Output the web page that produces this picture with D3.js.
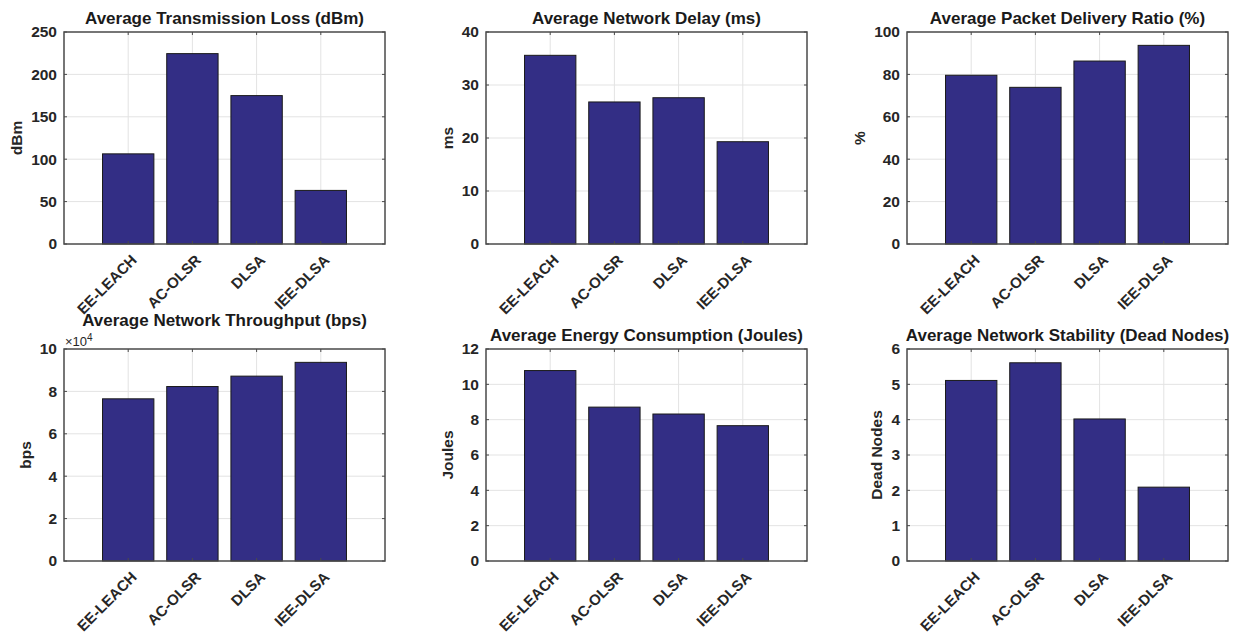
<!DOCTYPE html>
<html>
<head>
<meta charset="utf-8">
<script src="https://cdn.jsdelivr.net/npm/d3@7"></script>
<style>
  body { margin: 0; background: #fff; }
  svg { display: block; font-family: "Liberation Sans", Arial, sans-serif; }
  .tick text { font-weight: bold; fill: #262626; }
</style>
</head>
<body>
<div id="chart"></div>
<script>
// data
const categories = ["EE-LEACH", "AC-OLSR", "DLSA", "IEE-DLSA"];
const lossValues = [106.3, 224.5, 175, 63.2];
const delayValues = [35.6, 26.8, 27.6, 19.3];
const pdrValues = [79.6, 73.9, 86.3, 93.7];
const throughputValues = [76500, 82300, 87200, 93700];
const energyValues = [10.78, 8.71, 8.32, 7.66];
const deadNodeValues = [5.11, 5.61, 4.02, 2.09];

const lossTicks = [0, 50, 100, 150, 200, 250];
const delayTicks = [0, 10, 20, 30, 40];
const pdrTicks = [0, 20, 40, 60, 80, 100];
const throughputTicks = [0, 20000, 40000, 60000, 80000, 100000];
const energyTicks = [0, 2, 4, 6, 8, 10, 12];
const deadNodeTicks = [0, 1, 2, 3, 4, 5, 6];

const W = 1241, H = 637;
const colLeft = [64, 486, 907], plotW = 321;
const rowTop = [32, 349], plotH = 212;

const barColor = "#332e85";
const boxColor = "#4a4a4a";
const gridColor = "#e3e3e3";

const panels = [
  {title: "Average Transmission Loss (dBm)", ylabel: "dBm", values: lossValues, ticks: lossTicks, col: 0, row: 0},
  {title: "Average Network Delay (ms)", ylabel: "ms", values: delayValues, ticks: delayTicks, col: 1, row: 0},
  {title: "Average Packet Delivery Ratio (%)", ylabel: "%", values: pdrValues, ticks: pdrTicks, col: 2, row: 0},
  {title: "Average Network Throughput (bps)", ylabel: "bps", values: throughputValues, ticks: throughputTicks, col: 0, row: 1, exponent: 4},
  {title: "Average Energy Consumption (Joules)", ylabel: "Joules", values: energyValues, ticks: energyTicks, col: 1, row: 1},
  {title: "Average Network Stability (Dead Nodes)", ylabel: "Dead Nodes", values: deadNodeValues, ticks: deadNodeTicks, col: 2, row: 1}
];

const svg = d3.select("#chart").append("svg")
  .attr("width", W)
  .attr("height", H);

panels.forEach(drawPanel);

function drawPanel(p) {
  const x0 = colLeft[p.col], y0 = rowTop[p.row];
  const g = svg.append("g").attr("transform", `translate(${x0},${y0})`);

  // matlab style: categories at 1..4 with limits 0..5
  const x = d3.scaleLinear().domain([0, 5]).range([0, plotW]);
  const y = d3.scaleLinear().domain([0, d3.max(p.ticks)]).range([plotH, 0]);
  const div = p.exponent ? Math.pow(10, p.exponent) : 1;

  // grid
  g.append("g").selectAll("line.gy")
    .data(p.ticks.slice(1, -1))
    .join("line")
      .attr("x1", 0).attr("x2", plotW)
      .attr("y1", d => y(d)).attr("y2", d => y(d))
      .attr("stroke", gridColor);
  g.append("g").selectAll("line.gx")
    .data(categories)
    .join("line")
      .attr("x1", (d, i) => x(i + 1)).attr("x2", (d, i) => x(i + 1))
      .attr("y1", 0).attr("y2", plotH)
      .attr("stroke", gridColor);

  // bars
  const bw = x(0.8) - x(0);
  g.selectAll("rect.bar")
    .data(p.values)
    .join("rect")
      .attr("class", "bar")
      .attr("x", (d, i) => x(i + 1) - bw / 2)
      .attr("y", d => y(d))
      .attr("width", bw)
      .attr("height", d => plotH - y(d))
      .attr("fill", barColor)
      .attr("stroke", "#1a1a1a")
      .attr("stroke-width", 1);

  // y axis
  const yAxis = d3.axisLeft(y)
    .tickValues(p.ticks)
    .tickSize(0)
    .tickPadding(7)
    .tickFormat(d => d / div);
  const ya = g.append("g").call(yAxis);
  ya.select(".domain").remove();
  ya.selectAll(".tick text").style("font-size", "15.5px");

  // x axis
  const xAxis = d3.axisBottom(x)
    .tickValues([1, 2, 3, 4])
    .tickSize(0)
    .tickFormat(d => categories[d - 1]);
  const xa = g.append("g").attr("transform", `translate(0,${plotH})`).call(xAxis);
  xa.select(".domain").remove();
  xa.selectAll(".tick text")
    .style("font-size", "15px")
    .attr("text-anchor", "end")
    .attr("dy", null)
    .attr("y", null)
    .attr("transform", "translate(9,17) rotate(-45)");

  // inner tick marks (left/right/top/bottom)
  const tk = 3;
  const marks = g.append("g").attr("stroke", boxColor);
  p.ticks.forEach(t => {
    marks.append("line").attr("x1", 0).attr("x2", tk).attr("y1", y(t)).attr("y2", y(t));
    marks.append("line").attr("x1", plotW - tk).attr("x2", plotW).attr("y1", y(t)).attr("y2", y(t));
  });
  [1, 2, 3, 4].forEach(t => {
    marks.append("line").attr("x1", x(t)).attr("x2", x(t)).attr("y1", 0).attr("y2", tk);
    marks.append("line").attr("x1", x(t)).attr("x2", x(t)).attr("y1", plotH - tk).attr("y2", plotH);
  });

  // box
  g.append("rect")
    .attr("width", plotW).attr("height", plotH)
    .attr("fill", "none")
    .attr("stroke", boxColor)
    .attr("stroke-width", 1.5);

  // title
  g.append("text")
    .attr("x", plotW / 2)
    .attr("y", p.exponent ? -23 : -8)
    .attr("text-anchor", "middle")
    .style("font-size", "17px")
    .style("font-weight", "bold")
    .attr("fill", "#1a1a1a")
    .text(p.title);

  // y label
  const yTickW = d3.max(p.ticks, t => String(t / div).length) * 8.6;
  g.append("text")
    .attr("transform", `translate(${-yTickW - 16},${plotH / 2}) rotate(-90)`)
    .attr("text-anchor", "middle")
    .style("font-size", "15.5px")
    .style("font-weight", "bold")
    .attr("fill", "#262626")
    .text(p.ylabel);

  // exponent marker
  if (p.exponent) {
    const ex = g.append("text")
      .attr("x", 1).attr("y", -3)
      .style("font-size", "13px")
      .attr("fill", "#262626");
    ex.append("tspan").text("\u00d710");
    ex.append("tspan").attr("dy", -5).style("font-size", "10px").text(p.exponent);
  }
}
</script>
</body>
</html>
